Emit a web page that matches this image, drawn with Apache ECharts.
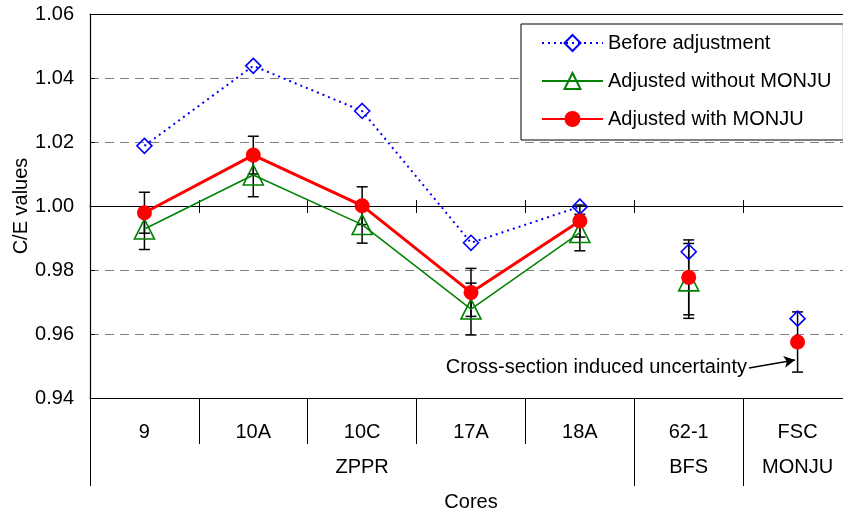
<!DOCTYPE html>
<html>
<head>
<meta charset="utf-8">
<script src="https://cdn.jsdelivr.net/npm/echarts@6/dist/echarts.min.js"></script>
<style>
html,body{margin:0;padding:0;background:#fff;}
#chart{width:843px;height:514px;}
</style>
</head>
<body>
<div id="chart"></div>
<script>
// ---- data ----
const categories = ['9', '10A', '10C', '17A', '18A', '62-1', 'FSC'];
const groupNames = ['ZPPR', 'BFS', 'MONJU'];
const groupSpans = [5, 1, 1];
const beforeAdjustment = [1.0188, 1.0438, 1.0297, 0.9885, 0.9998, 0.9857, 0.9648];
const adjustedWithoutMonju = [0.9928, 1.0097, 0.9942, 0.9678, 0.9917, 0.9766, null];
const adjustedWithMonju = [0.9979, 1.0159, 1.0001, 0.9730, 0.9953, 0.9777, 0.9575];
const errWithoutMonju = [0.0064, 0.0068, 0.0058, 0.0081, 0.0057, 0.0117, null];
const errWithMonju = [0.0064, 0.0059, 0.0059, 0.0075, 0.0050, 0.0117, 0.0094];
const yMin = 0.94, yMax = 1.06, yStep = 0.02;
const seriesNames = ['Before adjustment', 'Adjusted without MONJU', 'Adjusted with MONJU'];
const annotationText = 'Cross-section induced uncertainty';

// ---- derived ----
const groupOf = [];
const groupStarts = [];
const groupLabels = categories.map(() => '');
let idx = 0;
groupSpans.forEach((span, g) => {
  groupStarts.push(idx);
  groupLabels[idx + Math.floor((span - 1) / 2)] = groupNames[g];
  for (let k = 0; k < span; k++) groupOf.push(g);
  idx += span;
});
const inLine = i => groupSpans[groupOf[i]] > 1;
const lineData = vals => vals.map((v, i) => (inLine(i) && v != null) ? v : '-');
const pointData = vals => vals.map((v, i) => (!inLine(i) && v != null) ? v : '-');
const errData = (vals, errs) => vals.map((v, i) => [i, v, errs[i]]).filter(d => d[1] != null && d[2] != null);

const FONT = 'Liberation Sans, Arial, sans-serif';
const BLUE = '#0000FF', GREEN = '#008000', RED = '#FF0000';
const PLOT_H = 384;

const styles = [
  { symbol: 'diamond', symbolSize: 15, lineStyle: { color: BLUE, width: 2, type: [2, 4] },
    itemStyle: { color: 'rgba(255,255,255,0)', borderColor: BLUE, borderWidth: 1.6 } },
  { symbol: 'triangle', symbolSize: 20, lineStyle: { color: GREEN, width: 1.5 },
    itemStyle: { color: 'rgba(255,255,255,0)', borderColor: GREEN, borderWidth: 1.6 } },
  { symbol: 'circle', symbolSize: 15, lineStyle: { color: RED, width: 3 },
    itemStyle: { color: RED, borderColor: RED, borderWidth: 0 } }
];
const valueSets = [beforeAdjustment, adjustedWithoutMonju, adjustedWithMonju];

function errRender(params, api) {
  const x = api.value(0), y = api.value(1), e = api.value(2);
  const top = api.coord([x, y + e]);
  const bot = api.coord([x, y - e]);
  const hw = 5.5;
  const st = { stroke: '#000', lineWidth: 1.5 };
  return { type: 'group', children: [
    { type: 'line', shape: { x1: top[0], y1: top[1], x2: bot[0], y2: bot[1] }, style: st },
    { type: 'line', shape: { x1: top[0] - hw, y1: top[1], x2: top[0] + hw, y2: top[1] }, style: st },
    { type: 'line', shape: { x1: bot[0] - hw, y1: bot[1], x2: bot[0] + hw, y2: bot[1] }, style: st }
  ]};
}

const series = [
  { type: 'custom', name: 'errGreen', renderItem: errRender, data: errData(adjustedWithoutMonju, errWithoutMonju), z: 1, silent: true },
  { type: 'custom', name: 'errRed', renderItem: errRender, data: errData(adjustedWithMonju, errWithMonju), z: 1, silent: true }
];
[1, 2, 0].forEach(s => {
  series.push({
    type: 'line', name: seriesNames[s], data: lineData(valueSets[s]),
    symbol: styles[s].symbol, symbolSize: styles[s].symbolSize,
    showAllSymbol: true, connectNulls: false,
    lineStyle: styles[s].lineStyle, itemStyle: styles[s].itemStyle, z: 3 + s
  });
});
[1, 2, 0].forEach(s => {
  series.push({
    type: 'line', name: seriesNames[s], data: pointData(valueSets[s]),
    symbol: styles[s].symbol, symbolSize: styles[s].symbolSize, showAllSymbol: true,
    lineStyle: { width: 0, opacity: 0 }, itemStyle: styles[s].itemStyle, z: 3 + s,
    markLine: s === 2 ? {
      silent: true, animation: false, symbol: ['none', 'arrow'], symbolSize: [9, 11],
      label: { show: false },
      lineStyle: { color: '#000', width: 1.6, type: 'solid' },
      data: [[{ x: 749, y: 368 }, { x: 795, y: 360 }]]
    } : undefined
  });
});

const baseX = {
  type: 'category', data: categories, boundaryGap: true,
  axisLabel: { show: false }, axisTick: { show: false },
  axisLine: { show: false, onZero: false }, splitLine: { show: false }
};
const oneOffset = -(1.00 - yMin) / (yMax - yMin) * PLOT_H;

const option = {
  animation: false,
  backgroundColor: '#fff',
  textStyle: { fontFamily: FONT, color: '#000' },
  grid: { left: 90, top: 14, right: -9, bottom: 116, containLabel: false, outerBoundsMode: 'none' },
  legend: {
    data: seriesNames, orient: 'vertical', left: 521, top: 24,
    padding: [9, 12, 11, 20], itemGap: 18, itemWidth: 61, itemHeight: 20,
    backgroundColor: '#fff', borderColor: '#000', borderWidth: 1,
    textStyle: { fontFamily: FONT, fontSize: 20, color: '#000' },
    selectedMode: false
  },
  xAxis: [
    Object.assign({}, baseX, {
      position: 'bottom',
      axisLine: { show: true, onZero: false, lineStyle: { color: '#000', width: 1.2 } },
      axisTick: { show: true, interval: 0, length: 46, lineStyle: { color: '#000', width: 1 } },
      axisLabel: { show: true, interval: 0, margin: 24, fontSize: 20, color: '#000', fontFamily: FONT }
    }),
    Object.assign({}, baseX, {
      data: groupLabels, position: 'bottom',
      axisTick: { show: true, interval: (i) => groupStarts.indexOf(i) >= 0, length: 88, lineStyle: { color: '#000', width: 1 } },
      axisLabel: { show: true, interval: 0, margin: 59, fontSize: 20, color: '#000', fontFamily: FONT },
      name: 'Cores', nameLocation: 'middle', nameGap: 94, nameMoveOverlap: false,
      nameTextStyle: { fontSize: 20, color: '#000', fontFamily: FONT }
    }),
    Object.assign({}, baseX, {
      position: 'bottom', offset: oneOffset,
      axisLine: { show: true, onZero: false, lineStyle: { color: '#000', width: 1.2 } },
      axisTick: { show: true, inside: true, interval: 0, length: 6, lineStyle: { color: '#000', width: 1 } }
    }),
    Object.assign({}, baseX, {
      position: 'bottom', offset: oneOffset,
      axisTick: { show: true, inside: false, interval: 0, length: 7, lineStyle: { color: '#000', width: 1 } }
    }),
    Object.assign({}, baseX, {
      position: 'top',
      axisLine: { show: true, onZero: false, lineStyle: { color: '#000', width: 1.2 } }
    })
  ],
  yAxis: {
    type: 'value', min: yMin, max: yMax, interval: yStep,
    name: 'C/E values', nameLocation: 'middle', nameGap: 59, nameMoveOverlap: false,
    nameTextStyle: { fontSize: 20, color: '#000', fontFamily: FONT },
    axisLine: { show: true, onZero: false, lineStyle: { color: '#000', width: 1.2 } },
    axisTick: { show: true, inside: true, length: 5, lineStyle: { color: '#000' } },
    axisLabel: { fontSize: 20, color: '#000', margin: 16, fontFamily: FONT, formatter: v => v.toFixed(2) },
    splitLine: { show: true, showMinLine: false, showMaxLine: false, lineStyle: { color: '#808080', width: 1.2, type: [9, 6] } }
  },
  graphic: [{
    type: 'text', x: 747, y: 367, z: 100,
    style: { text: annotationText, fontSize: 20, fontFamily: FONT, fill: '#000', align: 'right', verticalAlign: 'middle' }
  }],
  series: series
};

const chart = echarts.init(document.getElementById('chart'), null, { renderer: 'canvas' });
chart.setOption(option);
</script>
</body>
</html>
